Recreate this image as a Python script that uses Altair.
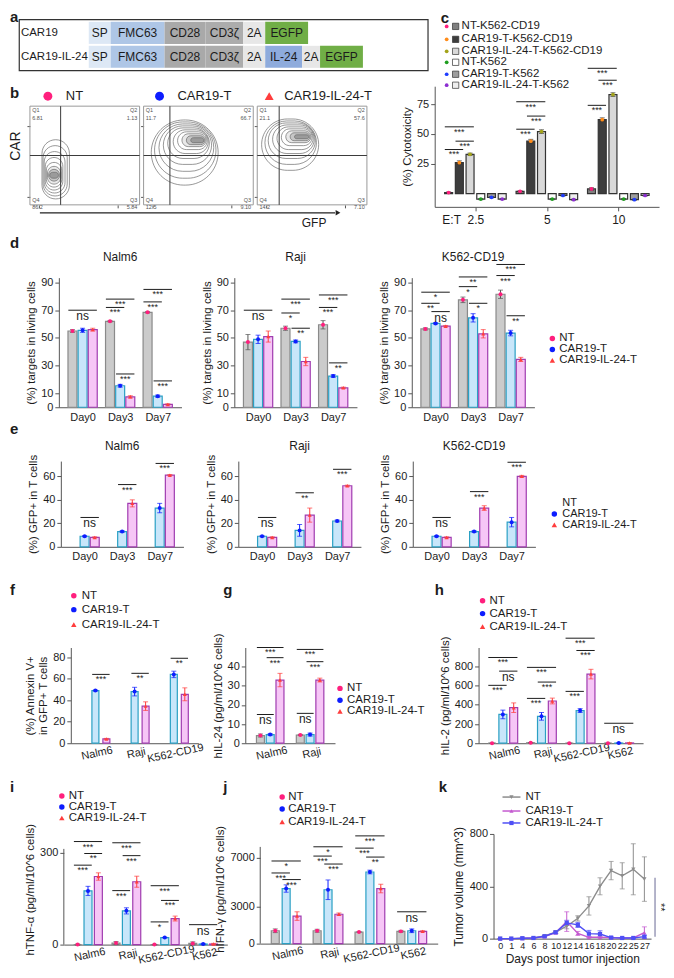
import altair as alt
import pandas as pd

FONT = "Liberation Sans"
INK = "#1c1c1c"
AXC = "#555555"
ONE = pd.DataFrame({"z": [0]})

# ---------------- panel a : constructs ----------------
a_rows = ["CAR19", "CAR19-IL-24"]
a_seg_row = ["CAR19"] * 6 + ["CAR19-IL-24"] * 8
a_seg_label = ["SP", "FMC63", "CD28", "CD3ζ", "2A", "EGFP",
               "SP", "FMC63", "CD28", "CD3ζ", "2A", "IL-24", "2A", "EGFP"]
a_seg_start = [70, 92, 146, 187, 225, 247, 70, 92, 146, 187, 225, 247, 284, 302]
a_seg_end = [92, 146, 187, 225, 247, 290, 92, 146, 187, 225, 247, 284, 302, 345]
a_seg_color = ["#dde8f5", "#aec6e6", "#a9a9a9", "#acacac", "#e7e7e7", "#70ae46",
               "#dde8f5", "#aec6e6", "#a9a9a9", "#acacac", "#e7e7e7", "#8eabdc", "#e7e7e7", "#70ae46"]

# ---------------- panel b : flow plots ----------------
b_names = ["NT", "CAR19-T", "CAR19-IL-24-T"]
b_marker = ["circle", "circle", "triangle-up"]
b_marker_color = ["#ff1f7d", "#0d1dff", "#ff3d3d"]
b_q1 = ["6.81", "11.7", "21.1"]
b_q2 = ["1.13", "66.7", "57.6"]
b_q3 = ["5.84", "9.10", "7.10"]
b_q4 = ["86.2", "12.5", "14.2"]
b_gate_x = [28, 24, 20]
b_gate_y = [50, 50, 50]
b_nt_contours = [(11, 36, 6, 66), (12, 34, 9, 60), (13, 32, 12, 54), (14, 30, 15, 48),
                 (15, 29, 18, 43), (16, 28, 21, 39), (17, 27, 24, 36), (18, 26, 27, 33)]
b_car_contours = [(7, 68, 20, 86), (10, 66, 27, 84), (14, 64, 34, 82), (18, 62, 41, 80),
                  (22, 60, 47, 78), (27, 59, 52, 76), (31, 58, 56, 74), (35, 57, 59, 72),
                  (39, 56, 61, 70), (43, 55, 63, 68)]
b_il_contours = [(4, 56, 35, 87), (7, 54, 41, 85), (10, 53, 47, 83), (14, 52, 52, 81),
                 (18, 51, 56, 79), (22, 50, 60, 77), (26, 49, 63, 75), (30, 48, 65, 73),
                 (34, 47, 67, 71)]

# ---------------- panel c : cytotoxicity ----------------
c_groups = ["2.5", "5", "10"]
c_series = ["NT-K562-CD19", "CAR19-T-K562-CD19", "CAR19-IL-24-T-K562-CD19",
            "NT-K562", "CAR19-T-K562", "CAR19-IL-24-T-K562"]
c_vals = [[1, 2, 4], [26, 44, 62], [33, 52, 83],
          [-4.5, -4.5, -4.5], [-3, -1.5, -5], [-4.5, -5, -1.5]]
c_errs = [[0.5, 0.5, 1], [1.5, 1.5, 1.5], [1, 1.5, 1.5],
          [0.5, 0.5, 0.5], [0.5, 0.5, 0.5], [0.5, 0.5, 0.5]]
c_fill = ["#808080", "#3d3d3d", "#d9d9d9", "#ffffff", "#9e9e9e", "#eeeeee"]
c_dot = ["#ff1f7d", "#ff8c1a", "#a3a31a", "#1f9e1f", "#1f3dff", "#8c2ed1"]
c_sig = [(0, 0, 2, 56, "***"), (0, 1, 2, 44, "***"), (0, 0, 1, 37, "***"),
         (1, 0, 2, 77, "***"), (1, 1, 2, 65, "***"), (1, 0, 1, 54, "***"),
         (2, 0, 2, 105, "***"), (2, 1, 2, 95, "***"), (2, 0, 1, 74, "***")]

# ---------------- panel d : targets in living cells ----------------
days = ["Day0", "Day3", "Day7"]
d_nalm6 = [[55, 62, 68.5], [55.5, 15.5, 8], [56, 7.5, 2]]
d_nalm6_err = [[1, 0.5, 0.5], [1.5, 1, 0.8], [1, 0.8, 0.5]]
d_raji = [[47, 57, 59.5], [49, 47.5, 22.5], [51, 33, 14]]
d_raji_err = [[5.5, 1.5, 3], [3, 1, 1], [4, 3, 0.5]]
d_k562 = [[56.5, 77.5, 81.5], [60.5, 64.5, 53.5], [58.5, 53, 34.5]]
d_k562_err = [[0.8, 2, 3], [0.5, 3, 2], [0.5, 3, 1.5]]
d_sig_nalm6 = [(0, 0, 2, 70, "ns"), (1, 0, 2, 78, "***"), (1, 0, 1, 72, "***"), (1, 1, 2, 24, "***"),
               (2, 0, 2, 85, "***"), (2, 0, 1, 76, "***"), (2, 1, 2, 19, "***")]
d_sig_raji = [(0, 0, 2, 70, "ns"), (1, 0, 2, 78, "***"), (1, 0, 1, 68, "*"), (1, 1, 2, 57, "**"),
              (2, 0, 2, 81, "***"), (2, 0, 1, 72, "***"), (2, 1, 2, 32, "**")]
d_sig_k562 = [(0, 0, 2, 83, "*"), (0, 0, 1, 75, "**"), (0, 1, 2, 69, "ns"),
              (1, 0, 2, 94, "**"), (1, 0, 1, 87, "*"), (1, 1, 2, 75, "*"),
              (2, 0, 2, 103, "***"), (2, 0, 1, 95, "***"), (2, 1, 2, 66, "**")]

# ---------------- panel e : GFP+ in T cells ----------------
e_nalm6 = [[None, None, None], [9, 13, 33], [8, 37, 61]]
e_nalm6_err = [[0, 0, 0], [0.5, 0.7, 4], [0.5, 3, 0.5]]
e_raji = [[None, None, None], [9, 14, 22], [8, 27, 52]]
e_raji_err = [[0, 0, 0], [0.5, 5, 0.8], [0.5, 6, 0.5]]
e_k562 = [[None, None, None], [9, 13, 21], [8, 33, 60]]
e_k562_err = [[0, 0, 0], [0.5, 0.7, 4], [0.5, 2, 0.8]]
e_sig_nalm6 = [(0, 1, 2, 25, "ns"), (1, 1, 2, 53, "***"), (2, 1, 2, 71, "***")]
e_sig_raji = [(0, 1, 2, 25, "ns"), (1, 1, 2, 46, "**"), (2, 1, 2, 66, "***")]
e_sig_k562 = [(0, 1, 2, 25, "ns"), (1, 1, 2, 47, "***"), (2, 1, 2, 72, "***")]

# ---------------- panel f : annexin V ----------------
f_groups = ["Nalm6", "Raji", "K562-CD19"]
f_vals = [[None, None, None], [49, 48, 64], [4, 34.5, 45.5]]
f_errs = [[0, 0, 0], [0.5, 4, 3], [0.5, 4, 6]]
f_sig = [(0, 1, 2, 64, "***"), (1, 1, 2, 65, "**"), (2, 1, 2, 79, "**")]

# ---------------- panel g : hIL-24 ----------------
g_groups = ["Nalm6", "Raji"]
g_vals = [[4, 4.3], [4.5, 4.5], [33, 33]]
g_errs = [[0.8, 0.3], [0.5, 0.8], [3.5, 1]]
g_sig = [(0, 0, 2, 50, "***"), (0, 1, 2, 44.7, "***"), (0, 0, 1, 15, "ns"),
         (1, 0, 2, 49, "***"), (1, 1, 2, 42.6, "***"), (1, 0, 1, 15.6, "ns")]

# ---------------- panel h : hIL-2 ----------------
cyto_groups = ["Nalm6", "Raji", "K562-CD19", "K562"]
h_vals = [[0, 5, 0, 0], [300, 280, 340, 2], [370, 440, 720, 3]]
h_errs = [[2, 3, 1, 1], [45, 40, 20, 1], [50, 30, 50, 2]]
h_sig = [(0, 0, 2, 893, "***"), (0, 1, 2, 751, "ns"), (0, 0, 1, 603, "***"),
         (1, 0, 2, 790, "***"), (1, 1, 2, 637, "***"), (1, 0, 1, 467, "***"),
         (2, 0, 2, 1094, "***"), (2, 1, 2, 966, "***"), (2, 0, 1, 540, "***"),
         (3, 0, 2, 208, "ns")]

# ---------------- panel i : hTNF-a ----------------
i_vals = [[0, 5, 0, 4], [175, 110, 23, 2], [222, 205, 85, 2]]
i_errs = [[2, 5, 1, 5], [15, 10, 1, 2], [12, 18, 8, 2]]
i_sig = [(0, 0, 2, 336, "***"), (0, 1, 2, 297, "**"), (0, 0, 1, 259, "***"),
         (1, 0, 2, 332, "***"), (1, 1, 2, 290, "***"), (1, 0, 1, 176, "***"),
         (2, 0, 2, 192, "***"), (2, 1, 2, 144, "***"), (2, 0, 1, 74, "*"),
         (3, 0, 2, 65, "ns")]

# ---------------- panel j : hIFN-g ----------------
j_vals = [[1050, 1050, 950, 1000], [4500, 4400, 5850, 1050], [2250, 2400, 4500, 1000]]
j_errs = [[150, 120, 30, 80], [300, 800, 150, 150], [350, 100, 350, 50]]
j_sig = [(0, 0, 2, 6750, "*"), (0, 0, 1, 5770, "***"), (0, 1, 2, 5230, "***"),
         (1, 0, 2, 7910, "*"), (1, 0, 1, 7150, "***"), (1, 1, 2, 6500, "***"),
         (2, 0, 2, 8800, "***"), (2, 0, 1, 7800, "***"), (2, 1, 2, 7070, "**"),
         (3, 0, 2, 2600, "ns")]

# ---------------- panel k : tumour volume ----------------
k_days = ["0", "1", "4", "6", "8", "10", "12", "14", "16", "18", "20", "22", "25", "27"]
k_nt = [0, 0, 2, 5, 20, 50, 95, 155, 250, 400, 520, 480, 530, 455]
k_nt_err = [0, 0, 1, 2, 5, 8, 20, 20, 70, 65, 70, 100, 195, 170]
k_car = [0, 0, 2, 5, 15, 45, 130, 40, 10, 10, 8, 5, 5, 45]
k_car_err = [0, 0, 1, 2, 5, 8, 75, 15, 5, 5, 3, 3, 3, 45]
k_il = [0, 0, 3, 5, 18, 48, 120, 105, 38, 35, 8, 5, 5, 15]
k_il_err = [0, 0, 1, 2, 5, 8, 20, 20, 25, 25, 5, 3, 3, 10]

# ---------------- styles ----------------
NT_DOT, CAR_DOT, IL_DOT = "#ff1f7d", "#0d1dff", "#ff3d3d"
STD = dict(fills=["#cbcbcb", "#c8e6fa", "#f6c6f6"],
           strokes=["#8a8a8a", "#2aa0c4", "#a03cb0"],
           dots=[NT_DOT, CAR_DOT, IL_DOT],
           shapes=["circle", "circle", "triangle-up"],
           ecol=["#555555", CAR_DOT, IL_DOT])
STD_ITEMS = [("NT", "circle", NT_DOT), ("CAR19-T", "circle", CAR_DOT),
             ("CAR19-IL-24-T", "triangle-up", IL_DOT)]


def txt(s, x, y, size=11, weight="normal", align="left", baseline="middle", angle=0, color=INK):
    return alt.Chart(ONE).mark_text(text=s, fontSize=size, fontWeight=weight, align=align,
                                    baseline=baseline, angle=angle, color=color).encode(
        x=alt.value(x), y=alt.value(y))


def letter(s, x, y):
    return txt(s, x, y, size=15, weight="bold")


def legend(items, mx, tx, ys, size=11.5, msize=30):
    out = []
    for (lab, shp, col), y in zip(items, ys):
        if shp:
            out.append(alt.Chart(ONE).mark_point(shape=shp, filled=True, size=msize, color=col,
                                                 opacity=1).encode(x=alt.value(mx), y=alt.value(y)))
        out.append(txt(lab, tx, y, size=size))
    return out


def spacer(w, h):
    return alt.Chart(ONE).mark_point(opacity=0, size=1).encode(
        x=alt.value(0), y=alt.value(0)).properties(width=w, height=h)


def bar_panel(groups, vals, errs, style, offs, sig, ydom, yticks, ytitle, w, h, bw,
              angle=0, yvis=None, extra=(), psize=16, xticks=False, lsize=11, fmt="d"):
    n = len(groups)
    rows = []
    for si in range(len(vals)):
        for gi in range(n):
            v = vals[si][gi]
            if v is None:
                continue
            e = errs[si][gi]
            rows.append({"x": gi + offs[si], "v": v, "lo": v - e, "hi": v + e,
                         "fill": style["fills"][si], "stroke": style["strokes"][si],
                         "dot": style["dots"][si], "shape": style["shapes"][si],
                         "ec": style["ecol"][si]})
    df = pd.DataFrame(rows)
    lab_expr = "[" + ",".join("'%s'" % g for g in groups) + "][datum.value]"
    xsc = alt.Scale(domain=[-0.5, n - 0.5], nice=False, zero=False)
    ysc = alt.Scale(domain=ydom, nice=False, zero=False)
    xax = alt.Axis(values=list(range(n)), labelExpr=lab_expr, title=None, ticks=xticks, tickSize=4,
                   labelAngle=angle, labelFontSize=lsize, labelPadding=4, labelOverlap=False,
                   labelAlign="center", labelBaseline="top")
    yax = alt.Axis(values=yticks, title=ytitle, domain=(yvis is None), tickSize=4, format=fmt,
                   labelPadding=2, titlePadding=4, labelOverlap=False)

    def X(f):
        return alt.X(f, scale=xsc, axis=xax)

    def Y(f):
        return alt.Y(f, scale=ysc, axis=yax)

    base = alt.Chart(df)
    layers = [
        base.mark_bar(size=bw, strokeWidth=1.2, orient="vertical").encode(
            x=X("x:Q"), y=Y("v:Q"), y2=alt.datum(0), fill=alt.Fill("fill:N", scale=None),
            stroke=alt.Stroke("stroke:N", scale=None)),
        base.mark_rule(strokeWidth=1).encode(
            x=X("x:Q"), y=Y("lo:Q"), y2="hi:Q", color=alt.Color("ec:N", scale=None)),
        base.mark_tick(orient="horizontal", size=5, thickness=1).encode(
            x=X("x:Q"), y=Y("hi:Q"), color=alt.Color("ec:N", scale=None)),
        base.mark_tick(orient="horizontal", size=5, thickness=1).encode(
            x=X("x:Q"), y=Y("lo:Q"), color=alt.Color("ec:N", scale=None)),
        base.mark_point(filled=True, size=psize, opacity=1).encode(
            x=X("x:Q"), y=Y("v:Q"),
            shape=alt.Shape("shape:N", scale=None), color=alt.Color("dot:N", scale=None)),
    ]
    if yvis is not None:
        layers.append(alt.Chart(ONE).mark_rule(color=AXC, strokeWidth=1).encode(
            x=alt.value(0), y=alt.datum(ydom[0]), y2=alt.datum(yvis)))
    if sig:
        hb = (bw / 2.0) / (w / float(n))
        srows = []
        for (g, s1, s2, yv, lab) in sig:
            x1 = g + offs[s1] - hb
            x2 = g + offs[s2] + hb
            srows.append({"x1": x1, "x2": x2, "xm": (x1 + x2) / 2, "y": yv, "lab": lab,
                          "fs": 12 if lab == "ns" else 9})
        sdf = pd.DataFrame(srows)
        layers.append(alt.Chart(sdf).mark_rule(strokeWidth=1, color=INK).encode(
            x=X("x1:Q"), x2="x2:Q", y=Y("y:Q")))
        layers.append(alt.Chart(sdf).mark_text(baseline="top", dy=1, color=INK).encode(
            x=X("xm:Q"), y=Y("y:Q"), text="lab:N", size=alt.Size("fs:Q", scale=None)))
    layers.extend(extra)
    return alt.layer(*layers).properties(width=w, height=h)


# ================= panel a =================
a_df = pd.DataFrame({"row": a_seg_row, "label": a_seg_label, "start": a_seg_start,
                     "end": a_seg_end, "color": a_seg_color})
a_df["mid"] = (a_df["start"] + a_df["end"]) / 2
a_xs = alt.Scale(domain=[0, 410], nice=False, zero=False)
a_ys = alt.Scale(domain=a_rows, paddingInner=0.08, paddingOuter=0.1)
a_chart = alt.layer(
    alt.Chart(a_df).mark_rect().encode(
        x=alt.X("start:Q", scale=a_xs, axis=None), x2="end:Q",
        y=alt.Y("row:N", scale=a_ys, axis=None), fill=alt.Fill("color:N", scale=None)),
    alt.Chart(a_df).mark_text(fontSize=12, color=INK).encode(
        x=alt.X("mid:Q", scale=a_xs, axis=None), y=alt.Y("row:N", scale=a_ys, axis=None), text="label:N"),
    alt.Chart(pd.DataFrame({"row": a_rows})).mark_text(fontSize=11.5, align="left", color=INK).encode(
        x=alt.value(2), y=alt.Y("row:N", scale=a_ys, axis=None), text="row:N"),
    txt("a", -9, -9, size=15, weight="bold", baseline="top"),
).properties(width=410, height=51, view=alt.ViewBackground(stroke="#333333", strokeWidth=1.2))


# ================= panel b =================
def flow_panel(i, contours, extra=()):
    W, H = 110, 119
    top = 100.0 * H / 99.0
    xs = alt.Scale(domain=[0, 100], nice=False, zero=False)
    ys = alt.Scale(domain=[0, top], nice=False, zero=False)
    cdf = pd.DataFrame(contours, columns=["x1", "x2", "y1", "y2"])
    ncont = len(cdf)
    cdf["fo"] = [0.0] * (ncont - 3) + [0.12, 0.22, 0.35]
    xax = alt.Axis(values=[8, 30, 55, 80], labels=False, ticks=True, tickSize=3, domain=False, title=None)
    yax = alt.Axis(values=[8, 30, 55, 80], labels=False, ticks=True, tickSize=3, domain=False,
                   title="CAR" if i == 0 else None, titleFontSize=14, titlePadding=4)
    hx = [18, 16, 12][i]
    tx = [36, 34, 27][i]
    layers = [
        alt.Chart(cdf).mark_rect(fill="#4a4a4a", stroke="#6a6a6a", strokeWidth=0.7, cornerRadius=80).encode(
            x=alt.X("x1:Q", scale=xs, axis=xax), x2="x2:Q",
            y=alt.Y("y1:Q", scale=ys, axis=yax), y2="y2:Q",
            fillOpacity=alt.FillOpacity("fo:Q", scale=None)),
        alt.Chart(ONE).mark_rect(fillOpacity=0, stroke="#9a9a9a", strokeWidth=1).encode(
            x=alt.datum(0), x2=alt.datum(100), y=alt.datum(0), y2=alt.datum(100)),
        alt.Chart(ONE).mark_rule(color="#3a3a3a", strokeWidth=1).encode(
            x=alt.datum(b_gate_x[i]), y=alt.datum(0), y2=alt.datum(100)),
        alt.Chart(ONE).mark_rule(color="#3a3a3a", strokeWidth=1).encode(
            x=alt.datum(0), x2=alt.datum(100), y=alt.datum(b_gate_y[i])),
        alt.Chart(ONE).mark_text(text="Q1\n" + b_q1[i], lineBreak="\n", fontSize=5.5, align="left",
                                 baseline="top", color="#555").encode(x=alt.datum(2), y=alt.datum(98)),
        alt.Chart(ONE).mark_text(text="Q2\n" + b_q2[i], lineBreak="\n", fontSize=5.5, align="right",
                                 baseline="top", color="#555").encode(x=alt.datum(98), y=alt.datum(98)),
        alt.Chart(ONE).mark_text(text="Q3\n" + b_q3[i], lineBreak="\n", fontSize=5.5, align="right",
                                 baseline="bottom", color="#555").encode(x=alt.datum(98), y=alt.datum(2)),
        alt.Chart(ONE).mark_text(text="Q4\n" + b_q4[i], lineBreak="\n", fontSize=5.5, align="left",
                                 baseline="bottom", color="#555").encode(x=alt.datum(2), y=alt.datum(2)),
        alt.Chart(ONE).mark_point(shape=b_marker[i], filled=True, size=80, color=b_marker_color[i],
                                  opacity=1).encode(x=alt.value(hx), y=alt.value(10)),
        txt(b_names[i], tx, 10, size=13),
    ]
    layers.extend(extra)
    return alt.layer(*layers).properties(width=W, height=H)


gfp_arrow = [
    alt.Chart(ONE).mark_rule(color="#222", strokeWidth=1.2).encode(
        x=alt.value(10), x2=alt.value(306), y=alt.value(127)),
    alt.Chart(ONE).mark_point(shape="triangle-right", filled=True, size=30, color="#222",
                              opacity=1).encode(x=alt.value(309), y=alt.value(127)),
    txt("GFP", 285, 137, size=12, align="center"),
    letter("b", -20, 7),
]
b_nt = flow_panel(0, b_nt_contours, gfp_arrow)
b_car = flow_panel(1, b_car_contours)
b_il = flow_panel(2, b_il_contours)

# ================= panel c =================
c_style = dict(fills=c_fill, strokes=["#333333"] * 6, dots=c_dot, shapes=["circle"] * 6,
               ecol=["#333333"] * 6)
c_offs = [-0.375, -0.225, -0.075, 0.075, 0.225, 0.375]
c_leg = []
for k, (name, f, d) in enumerate(zip(c_series, c_fill, c_dot)):
    y = [-60, -47, -35, -24, -12, -1][k]
    c_leg.append(alt.Chart(ONE).mark_point(shape="circle", filled=True, size=14, color=d,
                                           opacity=1).encode(x=alt.value(12), y=alt.value(y)))
    c_leg.append(alt.Chart(ONE).mark_point(shape="square", filled=True, size=40, fill=f,
                                           stroke="#333333", strokeWidth=0.7, opacity=1).encode(
        x=alt.value(21), y=alt.value(y)))
    c_leg.append(txt(name, 27, y, size=11.5))
c_extra = c_leg + [txt("E:T", 17, 134, size=12, align="center"),
                   txt("c", 6, -75, size=15, weight="bold", baseline="top")]
c_chart = bar_panel(c_groups, c_vals, c_errs, c_style, c_offs, c_sig, [-11, 90], [25, 50, 75],
                    "(%) Cytotoxicity", 225, 121, 8, extra=c_extra, psize=14, xticks=True, lsize=12)

# ================= rows d and e =================
offs3 = [-0.27, 0, 0.27]
d_title = "(%) targets in living cells"
d_n = bar_panel(days, d_nalm6, d_nalm6_err, STD, offs3, d_sig_nalm6, [0, 93.5], [0, 10, 30, 50, 70, 90],
                d_title, 123, 130, 9, extra=[txt("Nalm6", 61.5, -21, 12, align="center"), letter("d", -49, -35)])
d_r = bar_panel(days, d_raji, d_raji_err, STD, offs3, d_sig_raji, [0, 93.5], [0, 10, 30, 50, 70, 90],
                d_title, 123, 130, 9, extra=[txt("Raji", 61.5, -21, 12, align="center")])
d_k = bar_panel(days, d_k562, d_k562_err, STD, offs3, d_sig_k562, [0, 93.5], [0, 10, 30, 50, 70, 90],
                d_title, 123, 130, 9,
                extra=[txt("K562-CD19", 61.5, -21, 12, align="center")] + legend(STD_ITEMS, 141, 148, [61, 72, 83]))

e_title = "(%) GFP+ in T cells"
e_n = bar_panel(days, e_nalm6, e_nalm6_err, STD, offs3, e_sig_nalm6, [0, 73], [0, 20, 40, 60],
                e_title, 123, 86, 9, extra=[txt("Nalm6", 61.5, -15, 12, align="center"), letter("e", -51, -32)])
e_r = bar_panel(days, e_raji, e_raji_err, STD, offs3, e_sig_raji, [0, 73], [0, 20, 40, 60],
                e_title, 123, 86, 9, extra=[txt("Raji", 61.5, -15, 12, align="center")])
E_ITEMS = [("NT", None, NT_DOT), ("CAR19-T", "circle", CAR_DOT), ("CAR19-IL-24-T", "triangle-up", IL_DOT)]
e_k = bar_panel(days, e_k562, e_k562_err, STD, offs3, e_sig_k562, [0, 73], [0, 20, 40, 60],
                e_title, 123, 86, 9,
                extra=[txt("K562-CD19", 61.5, -15, 12, align="center")]
                + legend(E_ITEMS, 142, 150, [42, 53, 64], size=11))

# ================= row f g h =================
f_chart = bar_panel(f_groups, f_vals, f_errs, STD, [-0.28, 0, 0.28], f_sig, [0, 89], [0, 20, 40, 60, 80],
                    ["(%) Annexin V+", "in GFP+ T cells"], 128, 96, 7, angle=-12,
                    extra=legend(STD_ITEMS, 3, 11, [-52, -38, -23]) + [letter("f", -61, -58)])
g_chart = bar_panel(g_groups, g_vals, g_errs, STD, [-0.245, 0, 0.245], g_sig, [0, 50], [0, 10, 20, 30, 40],
                    "hIL-24 (pg/ml/10^6 cells)", 90, 96, 8, angle=-12,
                    extra=legend(STD_ITEMS, 95, 102, [41, 53, 64]) + [letter("g", -22, -58)])
h_chart = bar_panel(cyto_groups, h_vals, h_errs, STD, [-0.28, 0, 0.28], h_sig, [0, 997],
                    [0, 200, 400, 600, 800], "hIL-2 (pg/ml/10^6 cells)", 165, 96, 8, angle=-12,
                    extra=legend(STD_ITEMS, 4, 11, [-47, -34, -21]) + [letter("h", -44, -58)])

# ================= row i j k =================
i_top = 312 * 111 / 96.0
i_chart = bar_panel(cyto_groups, i_vals, i_errs, STD, [-0.27, 0, 0.27], i_sig, [0, i_top],
                    [0, 50, 100, 150, 200, 250, 300], "hTNF-α (pg/ml/10^6 cells)", 164, 111, 8,
                    angle=-12, yvis=312,
                    extra=legend(STD_ITEMS, -2, 5, [-38, -27, -16]) + [letter("i", -54, -47)])
j_top = 7900 * 110 / 97.0
j_chart = bar_panel(cyto_groups, j_vals, j_errs, STD, [-0.26, 0, 0.26], j_sig, [0, j_top],
                    [0, 1000, 3000, 5000, 7000], "hIFN-γ (pg/ml/10^6 cells)", 178, 110, 8,
                    angle=-12, yvis=7900,
                    extra=legend(STD_ITEMS, 22, 28, [-37, -25, -12]) + [letter("j", -37, -47)])

K_W = 158
k_rows = []
for name, vals, errs, col, shp in [("NT", k_nt, k_nt_err, "#8c8c8c", "triangle-down"),
                                   ("CAR19-T", k_car, k_car_err, "#c45ad0", "triangle-up"),
                                   ("CAR19-IL-24-T", k_il, k_il_err, "#4f4ff5", "square")]:
    for idx in range(len(k_days)):
        k_rows.append({"s": name, "i": idx, "v": vals[idx], "lo": vals[idx] - errs[idx],
                       "hi": vals[idx] + errs[idx], "col": col, "shp": shp})
k_df = pd.DataFrame(k_rows)
k_lab = "[" + ",".join("'%s'" % d for d in k_days) + "][datum.value]"
k_xs = alt.Scale(domain=[-0.6, 13.6], nice=False, zero=False)
k_ys = alt.Scale(domain=[0, 800], nice=False, zero=False)
k_xax = alt.Axis(values=list(range(14)), labelExpr=k_lab, ticks=False, labelOverlap=False,
                 labelFontSize=9, labelPadding=3, title="Days post tumor injection",
                 titleFontSize=12, titlePadding=3)
k_yax = alt.Axis(values=[0, 200, 400, 600, 800], title="Tumor volume (mm^3)", titleFontSize=12,
                 tickSize=4, labelOverlap=False)


def KX(f):
    return alt.X(f, scale=k_xs, axis=k_xax)


def KY(f):
    return alt.Y(f, scale=k_ys, axis=k_yax)


kb = alt.Chart(k_df)
k_items = [("NT", "#8c8c8c", "triangle-down"), ("CAR19-T", "#c45ad0", "triangle-up"),
           ("CAR19-IL-24-T", "#4f4ff5", "square")]
k_leg = []
for (lab, col, shp), y in zip(k_items, [-37, -23, -11]):
    k_leg.append(alt.Chart(ONE).mark_rule(color=col, strokeWidth=1.5).encode(
        x=alt.value(9), x2=alt.value(27), y=alt.value(y)))
    k_leg.append(alt.Chart(ONE).mark_point(shape=shp, filled=True, size=18, color=col, opacity=1).encode(
        x=alt.value(18), y=alt.value(y)))
    k_leg.append(txt(lab, 32, y, size=11.5))
k_chart = alt.layer(
    kb.mark_rule(strokeWidth=1).encode(
        x=KX("i:Q"), y=KY("lo:Q"), y2="hi:Q", color=alt.Color("col:N", scale=None)),
    kb.mark_tick(orient="horizontal", size=5, thickness=1).encode(
        x=KX("i:Q"), y=KY("hi:Q"), color=alt.Color("col:N", scale=None)),
    kb.mark_tick(orient="horizontal", size=5, thickness=1).encode(
        x=KX("i:Q"), y=KY("lo:Q"), color=alt.Color("col:N", scale=None)),
    kb.mark_line(strokeWidth=1.4).encode(
        x=KX("i:Q"), y=KY("v:Q"), detail="s:N", color=alt.Color("col:N", scale=None)),
    kb.mark_point(filled=True, size=18, opacity=1).encode(
        x=KX("i:Q"), y=KY("v:Q"),
        shape=alt.Shape("shp:N", scale=None), color=alt.Color("col:N", scale=None)),
    alt.Chart(ONE).mark_rule(color="#9b9bb8", strokeWidth=1.5).encode(
        x=alt.value(K_W + 4), y=alt.datum(15), y2=alt.datum(465)),
    alt.Chart(ONE).mark_text(text="**", fontSize=11, angle=90, align="center", baseline="middle",
                             color=INK).encode(x=alt.value(K_W + 9), y=alt.datum(240)),
    letter("k", -55, -47),
    *k_leg,
).properties(width=K_W, height=105)


# ================= layout =================
def row(*cells):
    return alt.hconcat(*cells, spacing=0, bounds="flush")


R_A = row(spacer(9, 1), a_chart)
R_B = row(spacer(20, 1), b_nt, spacer(4, 1), b_car, spacer(4, 1), b_il, spacer(67.5, 1), c_chart)
R_D = row(spacer(49, 1), d_n, spacer(53, 1), d_r, spacer(55, 1), d_k)
R_E = row(spacer(51, 1), e_n, spacer(55, 1), e_r, spacer(52, 1), e_k)
R_F = row(spacer(61, 1), f_chart, spacer(47, 1), g_chart, spacer(144, 1), h_chart)
R_I = row(spacer(54, 1), i_chart, spacer(33, 1), j_chart, spacer(56, 1), k_chart)

chart = alt.vconcat(R_A, spacer(1, 67), R_B, spacer(1, 192), R_D, spacer(1, 184),
                    R_E, spacer(1, 187), R_F, spacer(1, 187), R_I,
                    spacing=0, bounds="flush").properties(padding=0)
chart = chart.configure(font=FONT).configure_view(stroke=None).configure_axis(
    labelFont=FONT, titleFont=FONT, labelFontSize=11, titleFontSize=11.5, titleFontWeight="normal",
    labelColor=INK, titleColor=INK, domainColor=AXC, tickColor=AXC, grid=False)

chart.save("out.html", embed_options={"renderer": "svg", "actions": False})
